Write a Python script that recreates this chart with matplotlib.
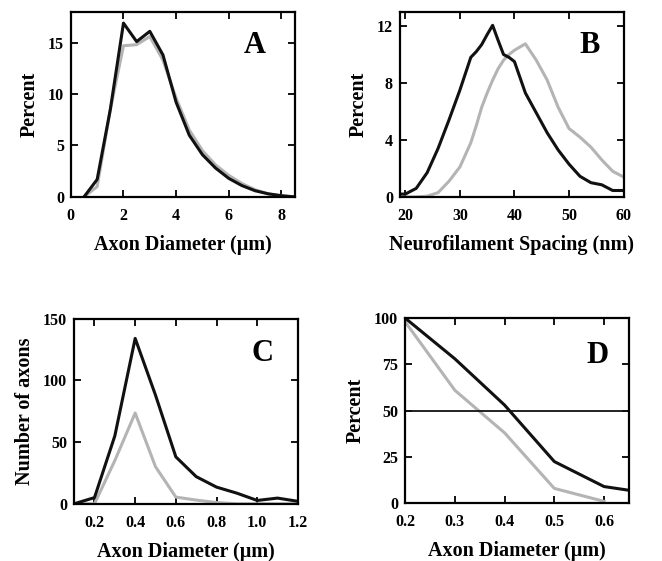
import matplotlib
matplotlib.use("Agg")
import matplotlib.pyplot as plt

plt.rcParams['font.family'] = ['Liberation Serif', 'DejaVu Serif']
plt.rcParams['font.weight'] = 'bold'

# Panel A: axon diameter distribution (percent)
a_x = [0.5, 1.0, 1.5, 2.0, 2.5, 3.0, 3.5, 4.0, 4.5, 5.0, 5.5, 6.0, 6.5, 7.0, 7.5, 8.0, 8.5]
a_black = [0.0, 1.7, 8.5, 16.9, 15.1, 16.1, 13.8, 9.2, 6.0, 4.1, 2.8, 1.8, 1.1, 0.6, 0.3, 0.12, 0.0]
a_gray = [0.0, 1.0, 8.5, 14.7, 14.8, 15.6, 13.3, 9.6, 6.5, 4.5, 3.1, 2.1, 1.3, 0.7, 0.3, 0.1, 0.0]

# Panel B: neurofilament spacing (percent)
b_x = [19, 20, 21, 22, 24, 26, 28, 30, 32, 33, 34, 35, 36, 37, 38, 39, 40, 42, 44, 46, 48, 50, 52, 54, 56, 58, 60]
b_black = [0.2, 0.2, 0.4, 0.6, 1.7, 3.4, 5.4, 7.5, 9.8, 10.2, 10.7, 11.4, 12.05, 11.0, 10.0, 9.8, 9.5, 7.3, 5.9, 4.5, 3.3, 2.3, 1.45, 1.0, 0.85, 0.45, 0.45]
b_gray = [0.0, 0.0, 0.0, 0.0, 0.05, 0.3, 1.1, 2.1, 3.8, 5.0, 6.3, 7.3, 8.2, 9.0, 9.6, 10.0, 10.3, 10.75, 9.6, 8.2, 6.3, 4.8, 4.2, 3.5, 2.6, 1.8, 1.4]

# Panel C: number of axons vs diameter
c_x = [0.1, 0.2, 0.3, 0.4, 0.5, 0.6, 0.7, 0.8, 0.9, 1.0, 1.1, 1.2]
c_black = [0, 5, 55, 134, 88, 38, 22, 13.5, 8.6, 2.7, 4.6, 2]
c_gray = [0, 0, 35, 73.5, 30, 5.4, 3, 1, 0, 0, 0, 0]

# Panel D: cumulative percent vs diameter
d_x = [0.2, 0.3, 0.4, 0.5, 0.6, 0.65]
d_black = [100, 78, 53, 22.5, 9, 7]
d_x_gray = [0.2, 0.3, 0.4, 0.5, 0.6]
d_gray = [98, 61, 38, 8, 1]
d_ref = 50

BLACK = '#111111'
GRAY = '#b4b4b4'

fig = plt.figure(figsize=(6.62, 5.61), dpi=100)

def style(ax, xlim, ylim, xticks, yticks, xticklabels, yticklabels, xlabel, ylabel,
          letter, lpos):
    ax.set_xlim(*xlim)
    ax.set_ylim(*ylim)
    ax.set_xticks(xticks)
    ax.set_yticks(yticks)
    ax.set_xticklabels(xticklabels, fontsize=11.5, fontweight='bold')
    ax.set_yticklabels(yticklabels, fontsize=11.5, fontweight='bold')
    ax.tick_params(direction='in', top=True, right=True, length=5, width=1.3)
    ax.tick_params(axis='x', pad=8)
    ax.tick_params(axis='y', pad=5)
    for s in ax.spines.values():
        s.set_linewidth(1.6)
    ax.set_xlabel(xlabel, fontsize=14.5, fontweight='bold', labelpad=8)
    ax.set_ylabel(ylabel, fontsize=14.5, fontweight='bold', labelpad=6)
    ax.text(lpos[0], lpos[1], letter, transform=ax.transAxes, fontsize=22, fontweight='bold',
            ha='center', va='center')

axA = fig.add_axes([0.107, 0.649, 0.338, 0.330])
axA.plot(a_x, a_gray, color=GRAY, lw=2.2)
axA.plot(a_x, a_black, color=BLACK, lw=2.2)
style(axA, (0, 8.5), (0, 18), [0, 2, 4, 6, 8], [0, 5, 10, 15],
      ['0', '2', '4', '6', '8'], ['0', '5', '10', '15'],
      'Axon Diameter (\u03bcm)', 'Percent', 'A', (0.82, 0.82))

axB = fig.add_axes([0.604, 0.649, 0.338, 0.330])
axB.plot(b_x, b_gray, color=GRAY, lw=2.2)
axB.plot(b_x, b_black, color=BLACK, lw=2.2)
style(axB, (19, 60), (0, 13), [20, 30, 40, 50, 60], [0, 4, 8, 12],
      ['20', '30', '40', '50', '60'], ['0', '4', '8', '12'],
      'Neurofilament Spacing (nm)', 'Percent', 'B', (0.85, 0.82))

axC = fig.add_axes([0.112, 0.102, 0.338, 0.330])
axC.plot(c_x, c_gray, color=GRAY, lw=2.2)
axC.plot(c_x, c_black, color=BLACK, lw=2.2)
style(axC, (0.1, 1.2), (0, 150), [0.2, 0.4, 0.6, 0.8, 1.0, 1.2], [0, 50, 100, 150],
      ['0.2', '0.4', '0.6', '0.8', '1.0', '1.2'], ['0', '50', '100', '150'],
      'Axon Diameter (\u03bcm)', 'Number of axons', 'C', (0.84, 0.81))

axD = fig.add_axes([0.612, 0.103, 0.338, 0.330])
axD.plot(d_x_gray, d_gray, color=GRAY, lw=2.2)
axD.plot(d_x, d_black, color=BLACK, lw=2.2)
axD.axhline(d_ref, color=BLACK, lw=1.3)
style(axD, (0.2, 0.65), (0, 100), [0.2, 0.3, 0.4, 0.5, 0.6], [0, 25, 50, 75, 100],
      ['0.2', '0.3', '0.4', '0.5', '0.6'], ['0', '25', '50', '75', '100'],
      'Axon Diameter (\u03bcm)', 'Percent', 'D', (0.86, 0.80))

fig.savefig('out.png', dpi=100)
